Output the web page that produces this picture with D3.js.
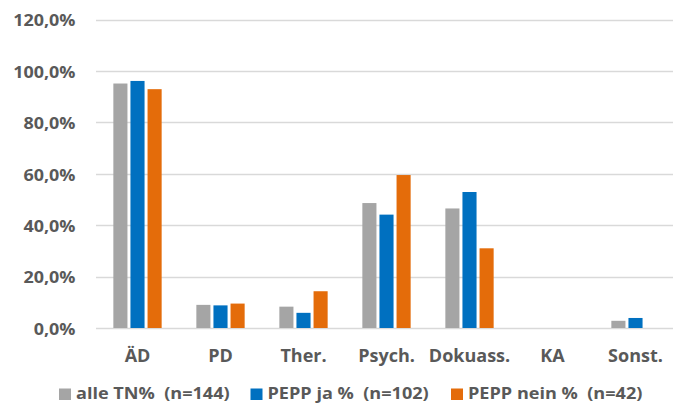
<!DOCTYPE html>
<html>
<head>
<meta charset="utf-8">
<script src="https://cdn.jsdelivr.net/npm/d3@7"></script>
<style>
  html, body { margin: 0; padding: 0; background: #fff; }
  svg text { font-family: "Open Sans", "Liberation Sans", sans-serif; font-weight: bold; fill: #595959; }
</style>
</head>
<body>
<svg id="chart" width="673" height="405"></svg>
<script>
// Kategorien und Anteile je Gruppe (in %)
const categories = ["ÄD", "PD", "Ther.", "Psych.", "Dokuass.", "KA", "Sonst."];
const seriesNames = ["alle TN%  (n=144)", "PEPP ja %  (n=102)", "PEPP nein %  (n=42)"];
const alleTN   = [95.1, 9.0, 8.3, 48.6, 46.5, 0, 2.8];
const peppJa   = [96.1, 8.8, 5.9, 44.1, 52.9, 0, 3.9];
const peppNein = [92.9, 9.5, 14.3, 59.5, 31.0, 0, 0];
const yTicks = [0, 20, 40, 60, 80, 100, 120];
const colors = ["#A5A5A5", "#0070C0", "#E46C0A"];

const series = [alleTN, peppJa, peppNein];
const svg = d3.select("#chart");

const plotLeft = 96, plotRight = 677, plotTop = 19.5, plotBottom = 328;

const x = d3.scaleBand().domain(categories).range([plotLeft, plotRight]).paddingInner(0.382).paddingOuter(0.191);
const xs = d3.scaleBand().domain(d3.range(series.length)).range([0, x.bandwidth()]);
const y = d3.scaleLinear().domain([0, 120]).range([plotBottom, plotTop]);

const fmt = v => d3.format(".1f")(v).replace(".", ",") + "%";

// etwas breitere Schrift für Achsen- und Legendentexte
function widen(sel, k) {
  sel.each(function () {
    const w = this.getComputedTextLength();
    d3.select(this).attr("textLength", w * k).attr("lengthAdjust", "spacingAndGlyphs");
  });
}

// Gitterlinien
svg.append("g").selectAll("line").data(yTicks).join("line")
  .attr("x1", plotLeft).attr("x2", 673)
  .attr("y1", d => Math.round(y(d)) + 0.5).attr("y2", d => Math.round(y(d)) + 0.5)
  .attr("stroke", "#d9d9d9").attr("stroke-width", 1.3);

// y-Achse
const yAxis = svg.append("g")
  .attr("transform", `translate(${plotLeft - 20.5},0)`)
  .call(d3.axisLeft(y).tickValues(yTicks).tickFormat(fmt).tickSize(0).tickPadding(0));
yAxis.select(".domain").remove();
yAxis.selectAll("text").style("font-size", "16px").attr("dy", "0.4em");
widen(yAxis.selectAll("text"), 1.12);

// x-Achse
const xAxis = svg.append("g")
  .attr("transform", `translate(0,${plotBottom})`)
  .call(d3.axisBottom(x).tickSize(0).tickPadding(0));
xAxis.select(".domain").remove();
xAxis.selectAll("text").style("font-size", "18px").attr("y", 34).attr("dy", "0");

// Balken
const barW = xs.bandwidth() - 3;
series.forEach((vals, si) => {
  svg.append("g").selectAll("rect").data(vals).join("rect")
    .attr("x", (d, i) => x(categories[i]) + xs(si) + 1.5)
    .attr("width", barW)
    .attr("y", d => y(d))
    .attr("height", d => plotBottom - y(d))
    .attr("fill", colors[si]);
});

// Legende
const legendX = [59, 250.5, 451];
const lg = svg.append("g");
seriesNames.forEach((name, i) => {
  lg.append("rect").attr("x", legendX[i]).attr("y", 388.5).attr("width", 12).attr("height", 11.5).attr("fill", colors[i]);
  lg.append("text").attr("x", legendX[i] + 17).attr("y", 399).style("font-size", "16px").style("white-space", "pre").text(name);
});
widen(lg.selectAll("text"), 1.13);
</script>
</body>
</html>
